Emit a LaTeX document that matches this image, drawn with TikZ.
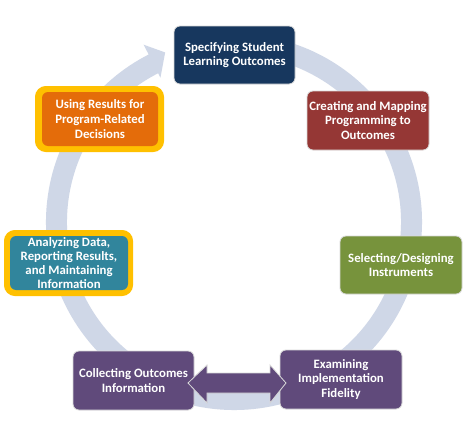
\documentclass[tikz,border=0pt]{standalone}
\usepackage{fontspec}
\setmainfont{Carlito}
\usetikzlibrary{calc}
\definecolor{ringc}{HTML}{CFD7E7}
\definecolor{navyc}{HTML}{17375E}
\definecolor{redc}{HTML}{953735}
\definecolor{orangec}{HTML}{E46C0A}
\definecolor{yellowc}{HTML}{FFC000}
\definecolor{tealc}{HTML}{31859C}
\definecolor{greenc}{HTML}{77933C}
\definecolor{purplec}{HTML}{604A7B}
\begin{document}
\begin{tikzpicture}[x=1pt,y=-1pt,
  stage/.style={rounded corners=6pt, draw=white!85!black, line width=0.8pt, text=white,
    align=center, inner sep=0pt, font=\fontsize{12.8}{14.8}\selectfont\bfseries},
  hilite/.style={rounded corners=8pt, draw=yellowc, line width=6pt, fill=yellowc},
  ringstyle/.style={fill=ringc, draw=none}
]
\useasboundingbox[fill=white] (0,0) rectangle (467,423);
\coordinate (c) at (234,222);
% cycle ring with arrowhead
\fill[ringstyle] ($(c)+(-80:188)$) arc[start angle=-80, end angle=243, radius=188]
  -- ($(c)+(243:199)$) -- ($(c)+(247.9:183)$) -- ($(c)+(243:162)$)
  -- ($(c)+(243:167)$) arc[start angle=243, end angle=-80, radius=167] -- cycle;
% highlight frames
\node[hilite, minimum width=123pt, minimum height=60pt] (usehl) at (99.5,119) {};
\node[hilite, minimum width=123pt, minimum height=60pt] (anahl) at (68.5,263) {};
% stages
\node[stage, fill=navyc, minimum width=121pt, minimum height=58pt] (spec) at (234.5,55) {Specifying Student\\Learning Outcomes};
\node[stage, fill=redc, minimum width=122pt, minimum height=59pt] (create) at (368,120.5) {Creating and Mapping\\Programming to\\Outcomes};
\node[stage, fill=greenc, minimum width=122pt, minimum height=58pt] (select) at (401,265) {Selecting/Designing\\Instruments};
\node[stage, fill=purplec, minimum width=122pt, minimum height=59pt] (exam) at (341,379.5) {Examining\\Implementation\\Fidelity};
\node[stage, fill=purplec, minimum width=121pt, minimum height=59pt] (collect) at (133.5,380.5) {Collecting Outcomes\\Information};
\node[stage, fill=tealc, draw=none, minimum width=118pt, minimum height=54pt, font=\fontsize{12.8}{14}\selectfont\bfseries] (analyze) at (69,263) {Analyzing Data,\\Reporting Results,\\and Maintaining\\Information};
\node[stage, fill=orangec, draw=none, minimum width=116pt, minimum height=54pt] (use) at (100,119) {Using Results for\\Program-Related\\Decisions};
% double arrow between collecting and examining
\coordinate (la) at (188,383);
\coordinate (ra) at (286,383);
\filldraw[fill=purplec, draw=white!85!black, line width=0.8pt]
  (la) -- ($(la)+(19,-18)$) -- ($(la)+(19,-10)$) -- ($(ra)+(-16,-10)$) -- ($(ra)+(-16,-18)$)
  -- (ra) -- ($(ra)+(-16,20)$) -- ($(ra)+(-16,10)$) -- ($(la)+(19,10)$) -- ($(la)+(19,20)$) -- cycle;
\end{tikzpicture}
\end{document}
